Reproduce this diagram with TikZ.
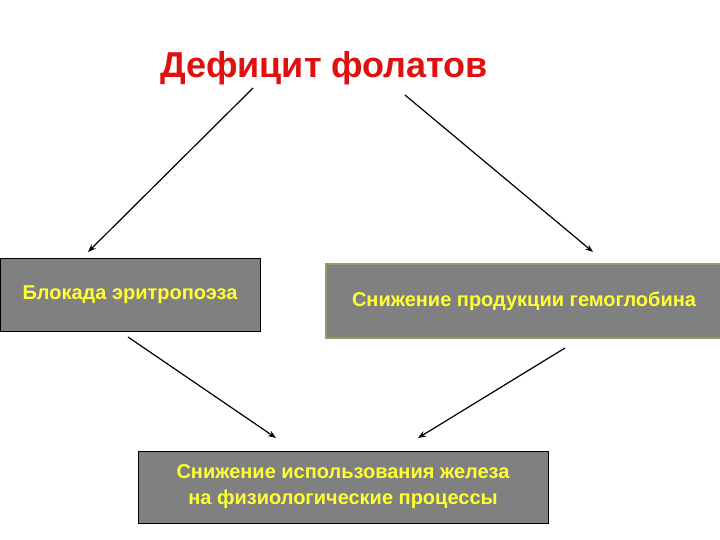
\documentclass[tikz,border=0pt]{standalone}
\usepackage{fontspec}
\setmainfont{Liberation Sans}
\usetikzlibrary{positioning,arrows.meta}
\definecolor{boxgray}{HTML}{808080}
\definecolor{boxtext}{HTML}{FFFF33}
\definecolor{titlered}{HTML}{E01010}
\definecolor{olive}{HTML}{9A9A60}
\tikzset{
  font=\bfseries
}

\begin{document}
\begin{tikzpicture}[x=1pt,y=-1pt,
  item/.style={rectangle,draw=black,line width=1pt,fill=boxgray,text=boxtext,
    font=\fontsize{20}{26}\bfseries,align=center,inner sep=0pt},
  link/.style={-{Stealth[length=8pt,width=6pt]},line width=1.2pt}]
\useasboundingbox (0,0) rectangle (720,540);
\node[text=titlered,font=\fontsize{36}{40}\bfseries] (title) at (324,68) {Дефицит фолатов};
\node[item,minimum width=260pt,minimum height=73pt] (blockade) at (130,294.5) {Блокада эритропоэза};
\node[item,draw=olive,line width=2pt,minimum width=396pt,minimum height=74pt] (hemo) at (524,301) {Снижение продукции гемоглобина};
\node[item,minimum width=410pt,minimum height=72pt] (iron) at (343,487) {Снижение использования железа\\на физиологические процессы};
\coordinate (t1) at (253,88);
\coordinate (t2) at (405,95);
\coordinate (b1) at (88,252);
\coordinate (h1) at (593,252);
\coordinate (b2) at (128,337);
\coordinate (h2) at (565,348);
\coordinate (i1) at (276,438);
\coordinate (i2) at (418,438);
\path[link] (t1) edge (b1)
            (t2) edge (h1)
            (b2) edge (i1)
            (h2) edge (i2);
\end{tikzpicture}
\end{document}
